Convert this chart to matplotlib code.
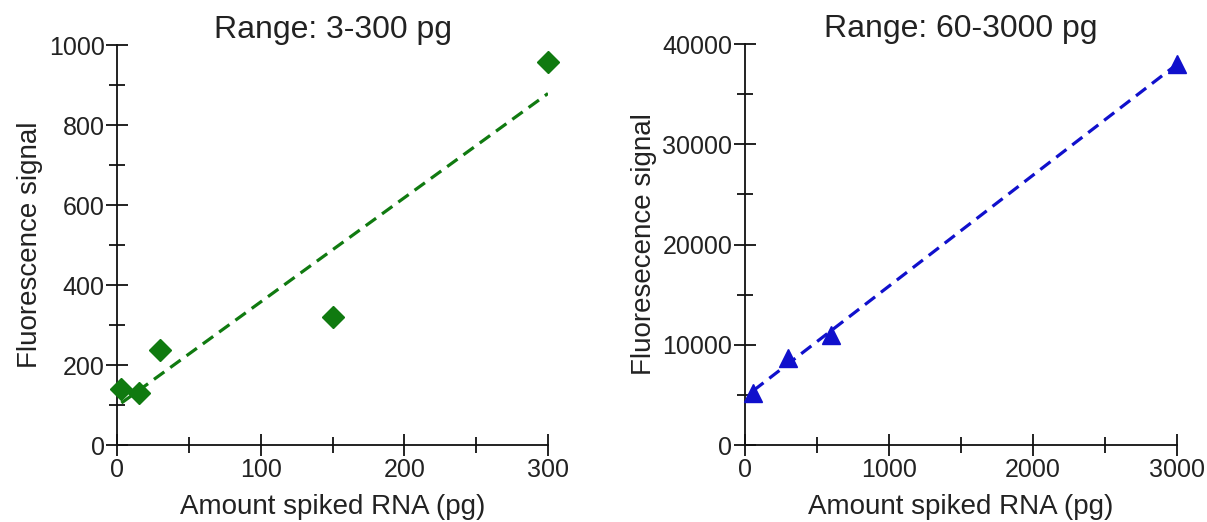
import matplotlib
matplotlib.use("Agg")
import matplotlib.pyplot as plt
import numpy as np
from matplotlib.ticker import MultipleLocator

plt.rcParams["font.family"] = ["Liberation Sans", "DejaVu Sans"]

# left panel: 3-300 pg
low_x = [3, 15, 30, 150, 300]
low_y = [140, 130, 237, 320, 957]

# right panel: 60-3000 pg
high_x = [60, 300, 600, 3000]
high_y = [5200, 8700, 11000, 38000]

TEXT = "#222222"


def style_axes(ax, xmax, ymax, xmaj, xmin, ymaj, ymin):
    ax.set_xlim(0, xmax)
    ax.set_ylim(0, ymax)
    for side in ("top", "right"):
        ax.spines[side].set_visible(False)
    for side in ("left", "bottom"):
        ax.spines[side].set_linewidth(1.3)
        ax.spines[side].set_color("#111111")
    ax.xaxis.set_major_locator(MultipleLocator(xmaj))
    ax.xaxis.set_minor_locator(MultipleLocator(xmin))
    ax.yaxis.set_major_locator(MultipleLocator(ymaj))
    ax.yaxis.set_minor_locator(MultipleLocator(ymin))
    ax.tick_params(which="major", direction="inout", length=16, width=1.3,
                   labelsize=18, labelcolor=TEXT, color="#111111", pad=1)
    ax.tick_params(which="minor", direction="inout", length=11, width=1.3,
                   color="#111111")


def panel(ax, x, y, color, marker, msize, title, ylabel, xmax, ymax, ticks):
    slope, intercept = np.polyfit(x, y, 1)
    xs = np.array([min(x), max(x)])
    ax.plot(xs, slope * xs + intercept, "--", color=color, lw=2.3,
            dashes=(4, 2.3), zorder=2)
    ax.plot(x, y, linestyle="none", marker=marker, color=color, ms=msize,
            clip_on=False, zorder=3)
    style_axes(ax, xmax, ymax, *ticks)
    ax.set_title(title, fontsize=23, color=TEXT, pad=4)
    ax.set_xlabel("Amount spiked RNA (pg)", fontsize=20, color=TEXT, labelpad=9)
    ax.set_ylabel(ylabel, fontsize=20, color=TEXT, labelpad=4)


fig = plt.figure(figsize=(12.07, 5.22), dpi=100)
ax1 = fig.add_axes([0.097, 0.1475, 0.357, 0.766])
ax2 = fig.add_axes([0.617, 0.1475, 0.358, 0.768])

panel(ax1, low_x, low_y, "#107a10", "D", 11, "Range: 3-300 pg",
      "Fluorescence signal", 300, 1000, (100, 50, 200, 100))
panel(ax2, high_x, high_y, "#1010cc", "^", 13, "Range: 60-3000 pg",
      "Fluoresecence signal", 3000, 40000, (1000, 500, 10000, 5000))

fig.savefig("out.png", dpi=100)
